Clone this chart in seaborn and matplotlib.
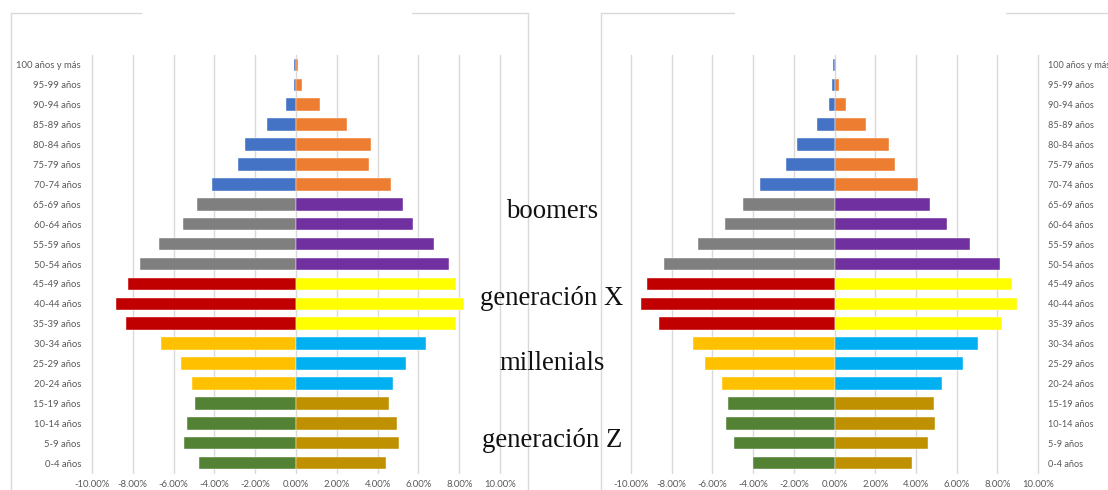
import matplotlib
matplotlib.use("Agg")
import matplotlib.pyplot as plt
from matplotlib.lines import Line2D
from matplotlib.ticker import FuncFormatter
import seaborn as sns
import pandas as pd

# Age groups, oldest at the top
ages = ["100 años y más", "95-99 años", "90-94 años", "85-89 años", "80-84 años",
        "75-79 años", "70-74 años", "65-69 años", "60-64 años", "55-59 años",
        "50-54 años", "45-49 años", "40-44 años", "35-39 años", "30-34 años",
        "25-29 años", "20-24 años", "15-19 años", "10-14 años", "5-9 años", "0-4 años"]

# Share of population (%) - first pyramid
left_men = [-0.08, -0.12, -0.5, -1.4, -2.5, -2.85, -4.1, -4.85, -5.55, -6.7, -7.65,
            -8.25, -8.8, -8.35, -6.6, -5.65, -5.1, -4.95, -5.35, -5.5, -4.75]
left_women = [0.08, 0.3, 1.2, 2.5, 3.7, 3.6, 4.65, 5.25, 5.75, 6.75, 7.5,
              7.85, 8.25, 7.85, 6.35, 5.4, 4.75, 4.55, 4.95, 5.05, 4.4]

# Share of population (%) - second pyramid
right_men = [-0.06, -0.12, -0.25, -0.85, -1.85, -2.4, -3.65, -4.5, -5.4, -6.7, -8.4,
             -9.2, -9.5, -8.6, -6.95, -6.35, -5.55, -5.25, -5.35, -4.95, -4.0]
right_women = [0.08, 0.2, 0.55, 1.55, 2.7, 2.95, 4.1, 4.7, 5.55, 6.65, 8.15,
               8.7, 8.95, 8.25, 7.05, 6.3, 5.3, 4.9, 4.95, 4.6, 3.8]

# Generation of each age group (index aligned with ages)
generation = (["older"] * 7 + ["boomers"] * 4 + ["genx"] * 3 +
              ["millenials"] * 3 + ["genz"] * 4)

men_colors = {"older": "#4472C4", "boomers": "#7F7F7F", "genx": "#C00000",
              "millenials": "#FFC000", "genz": "#548235"}
women_colors = {"older": "#ED7D31", "boomers": "#7030A0", "genx": "#FFFF00",
                "millenials": "#00B0F0", "genz": "#BF9000"}

generation_labels = ["boomers", "generación X", "millenials", "generación Z"]
label_rows = [7.69, 12.06, 15.33, 19.2]

x_ticks = [-10, -8, -6, -4, -2, 0, 2, 4, 6, 8, 10]

W, H = 1108, 490
sns.set_theme(style="white")
plt.rcParams["font.family"] = ["Lato", "DejaVu Sans"]

fig = plt.figure(figsize=(W / 100, H / 100), dpi=100)
fig.patch.set_facecolor("white")

bottom = 1 - 473 / H
height = 418 / H
ax_left = fig.add_axes([92 / W, bottom, 408 / W, height])
ax_right = fig.add_axes([631 / W, bottom, 407 / W, height])

grid_color = "#D9D9D9"
text_gray = "#595959"


def draw_pyramid(ax, men, women, labels_right=False):
    df = pd.DataFrame({"age": ages, "men": men, "women": women})
    df["men_color"] = [men_colors[g] for g in generation]
    df["women_color"] = [women_colors[g] for g in generation]
    sns.barplot(data=df, y="age", x="men", hue="age", order=ages, hue_order=ages,
                palette=dict(zip(df["age"], df["men_color"])), legend=False,
                orient="h", width=0.63, edgecolor="white", linewidth=0.3,
                saturation=1, ax=ax)
    sns.barplot(data=df, y="age", x="women", hue="age", order=ages, hue_order=ages,
                palette=dict(zip(df["age"], df["women_color"])), legend=False,
                orient="h", width=0.63, edgecolor="white", linewidth=0.3,
                saturation=1, ax=ax)
    ax.set_xlim(-10, 10)
    ax.set_ylim(len(ages) - 0.5, -0.5)
    ax.set_xticks(x_ticks)
    ax.xaxis.set_major_formatter(FuncFormatter(lambda v, _: f"{v:.2f}%"))
    ax.set_xlabel("")
    ax.set_ylabel("")
    ax.set_axisbelow(True)
    ax.grid(axis="x", color=grid_color, linewidth=1)
    ax.grid(axis="y", visible=False)
    for line in ax.get_xgridlines():
        line.set_clip_on(False)
    for s in ax.spines.values():
        s.set_visible(False)
    ax.tick_params(axis="both", length=0, labelsize=6.8, labelcolor=text_gray)
    ax.tick_params(axis="x", pad=5)
    ax.tick_params(axis="y", pad=8)
    if labels_right:
        ax.yaxis.tick_right()
        ax.tick_params(axis="y", pad=7, labelsize=6.6)
    ax.set_facecolor("white")


draw_pyramid(ax_left, left_men, left_women)
draw_pyramid(ax_right, right_men, right_women, labels_right=True)

# Generation names between the two pyramids
for name, row in zip(generation_labels, label_rows):
    y_fig = ax_left.transData.transform((0, row))[1] / fig.dpi / fig.get_figheight()
    fig.text(552 / W, y_fig, name, ha="center", va="baseline",
             fontsize=19.3, family="Liberation Serif", color="#111111")


# Chart-area borders
def seg(x0, y0, x1, y1):
    fig.add_artist(Line2D([x0 / W, x1 / W], [1 - y0 / H, 1 - y1 / H],
                          transform=fig.transFigure, color=grid_color, lw=1))


seg(11, 13, 141, 13)
seg(412, 13, 528, 13)
seg(11, 13, 11, H)
seg(528, 13, 528, H)
seg(601, 13, 734, 13)
seg(1006, 13, W, 13)
seg(601, 13, 601, H)

fig.savefig("out.png", dpi=100, facecolor="white")
